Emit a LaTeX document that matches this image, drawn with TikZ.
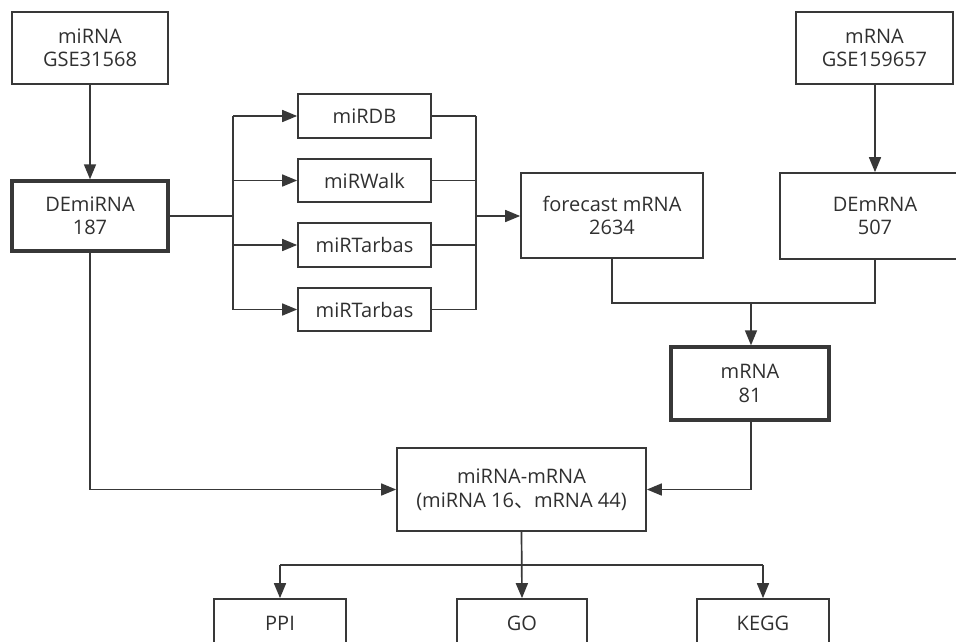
\documentclass[tikz,border=0pt]{standalone}
\usepackage{fontspec}
\setmainfont{Open Sans}
\newfontfamily\cjk{Noto Sans CJK SC}
\usetikzlibrary{arrows.meta}
\definecolor{ln}{HTML}{383838}
\definecolor{tx}{HTML}{303030}
\begin{document}
\begin{tikzpicture}[x=1pt,y=-1pt,
  box/.style 2 args={draw=ln, line width=1.7pt, text=tx, align=center, inner sep=0pt,
     minimum width=#1, minimum height=#2, font=\fontsize{20}{23.5}\selectfont},
  strong/.style={line width=3.4pt},
  conn/.style={draw=ln, line width=1.7pt},
  arr/.style={conn, -{Triangle[length=15pt,width=12pt]}}
]
\useasboundingbox (0,0) rectangle (956,641);
\clip (0,0) rectangle (956,641);

% nodes
\node[box={156pt}{72pt}] (mirna) at (90,48) {miRNA\\GSE31568};
\node[box={156pt}{70pt}, strong] (demirna) at (90,216) {DEmiRNA\\187};
\node[box={133pt}{44pt}] (mirdb) at (364.5,116) {miRDB};
\node[box={133pt}{43pt}] (mirwalk) at (364.5,180.5) {miRWalk};
\node[box={133pt}{44pt}] (tarA) at (364.5,245) {miRTarbas};
\node[box={133pt}{43pt}] (tarB) at (364.5,309.5) {miRTarbas};
\node[box={182pt}{85pt}] (fore) at (612,215.5) {forecast mRNA\\2634};
\node[box={157pt}{72pt}] (mrna) at (874.5,48) {mRNA\\GSE159657};
\node[box={190pt}{86pt}] (demrna) at (875,216) {DEmRNA\\507};
\node[box={158pt}{73pt}, strong] (m81) at (750,383.5) {mRNA\\81};
\node[box={249pt}{83pt}] (pair) at (521.5,489.5) {miRNA-mRNA\\(miRNA 16{\cjk 、}mRNA 44)};
\node[box={132pt}{48pt}] (ppi) at (280,623) {PPI};
\node[box={130pt}{48pt}] (go) at (522,623) {GO};
\node[box={132pt}{48pt}] (kegg) at (763,623) {KEGG};

% split / merge coordinates
\coordinate (sp) at (233,216);
\coordinate (sptop) at (233,116);
\coordinate (spbot) at (233,309.5);
\coordinate (mg) at (476,216);
\coordinate (mgtop) at (476,116);
\coordinate (mgbot) at (476,309.5);
\coordinate (jn) at (751,303);
\coordinate (bus) at (522,565);

% connectors
\draw[arr] (mirna) -- (demirna);
\draw[conn] (demirna.east) -- (sp);
\draw[conn] (sptop) -- (spbot);
\draw[arr] (sptop) -- (mirdb.west);
\draw[arr] (sp |- mirwalk.west) -- (mirwalk.west);
\draw[arr] (sp |- tarA.west) -- (tarA.west);
\draw[arr] (spbot) -- (tarB.west);

\draw[conn] (mirdb.east) -- (mgtop);
\draw[conn] (mirwalk.east) -- (mg |- mirwalk.east);
\draw[conn] (tarA.east) -- (mg |- tarA.east);
\draw[conn] (tarB.east) -- (mgbot);
\draw[conn] (mgtop) -- (mgbot);
\draw[arr] (mg) -- (fore.west |- mg);

\draw[arr] (mrna.south -| demrna.north) -- (demrna.north);
\draw[conn] (fore.south) |- (jn) -| (demrna.south);
\draw[arr] (jn) -- (m81.north -| jn);

\draw[arr] (m81.south -| jn) |- (pair.east);
\draw[arr] (demirna.south) |- (pair.west);

\draw[arr] (pair.south) -- (go.north);
\draw[conn] (bus -| ppi.north) -- (bus -| kegg.north);
\draw[arr] (bus -| ppi.north) -- (ppi.north);
\draw[arr] (bus -| kegg.north) -- (kegg.north);
\end{tikzpicture}
\end{document}
